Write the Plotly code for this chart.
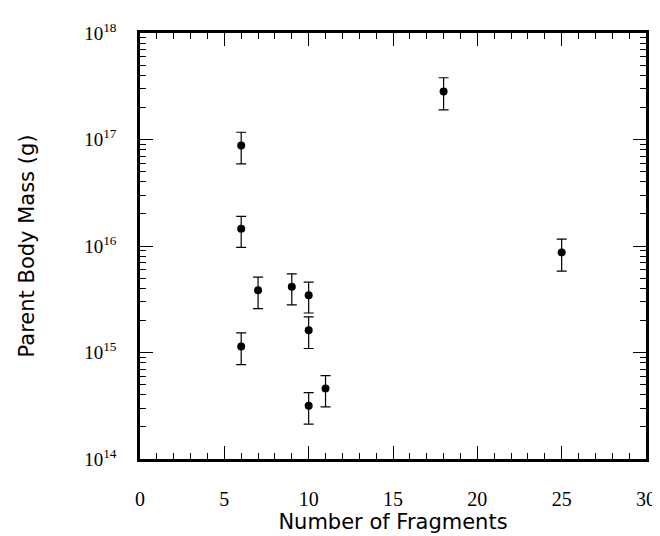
import plotly.graph_objects as go

fragments = [6, 6, 6, 7, 9, 10, 10, 10, 11, 18, 25]
mass = [8.8e16, 1.45e16, 1.14e15, 3.84e15, 4.15e15, 3.45e15, 1.62e15, 3.17e14, 4.6e14, 2.83e17, 8.7e15]
mass_hi = [1.17e17, 1.9e16, 1.53e15, 5.1e15, 5.48e15, 4.58e15, 2.16e15, 4.2e14, 6.07e14, 3.8e17, 1.16e16]
mass_lo = [5.9e16, 9.7e15, 7.7e14, 2.58e15, 2.8e15, 2.35e15, 1.09e15, 2.13e14, 3.08e14, 1.9e17, 5.8e15]

x_ticks = [0, 5, 10, 15, 20, 25, 30]
y_tickvals = [1e14, 1e15, 1e16, 1e17, 1e18]
y_exponents = ["14", "15", "16", "17", "18"]
y_ticktext = ["10<sup>%s</sup>" % e for e in y_exponents]

err_plus = [h - m for h, m in zip(mass_hi, mass)]
err_minus = [m - l for m, l in zip(mass, mass_lo)]

fig = go.Figure()
fig.add_trace(go.Scatter(
    x=fragments, y=mass, mode="markers",
    marker=dict(color="black", size=8),
    error_y=dict(type="data", symmetric=False, array=err_plus, arrayminus=err_minus,
                 color="black", thickness=1.2, width=5),
    showlegend=False,
))

xtickfont = dict(family="Liberation Serif", size=20, color="black")
ytickfont = dict(family="Liberation Serif", size=19, color="black")
titlefont = dict(family="DejaVu Sans", size=21, color="black")

fig.update_layout(
    width=660, height=536,
    margin=dict(l=132, r=12, t=20, b=85),
    plot_bgcolor="white", paper_bgcolor="white",
    xaxis=dict(
        range=[0, 30], tickvals=x_ticks, ticks="inside", ticklen=13, tickwidth=1,
        tickcolor="black", showline=True, linecolor="black", linewidth=2.5,
        mirror="ticks", showgrid=False, zeroline=False, tickfont=xtickfont,
        ticklabelstandoff=20,
        minor=dict(dtick=1, ticks="inside", ticklen=6, tickcolor="black", tickwidth=1, showgrid=False),
        title=dict(text="Number of Fragments", font=titlefont, standoff=6),
    ),
    yaxis=dict(
        type="log", range=[14, 18], tickvals=y_tickvals, ticktext=y_ticktext,
        ticks="inside", ticklen=13, tickwidth=1, tickcolor="black",
        showline=True, linecolor="black", linewidth=2.5, mirror="ticks",
        showgrid=False, zeroline=False, tickfont=ytickfont, ticklabelstandoff=17,
        minor=dict(dtick="D1", ticks="inside", ticklen=6, tickcolor="black", tickwidth=1, showgrid=False),
        title=dict(text="Parent Body Mass (g)", font=titlefont, standoff=44),
    ),
)

fig.write_html("out.html")
